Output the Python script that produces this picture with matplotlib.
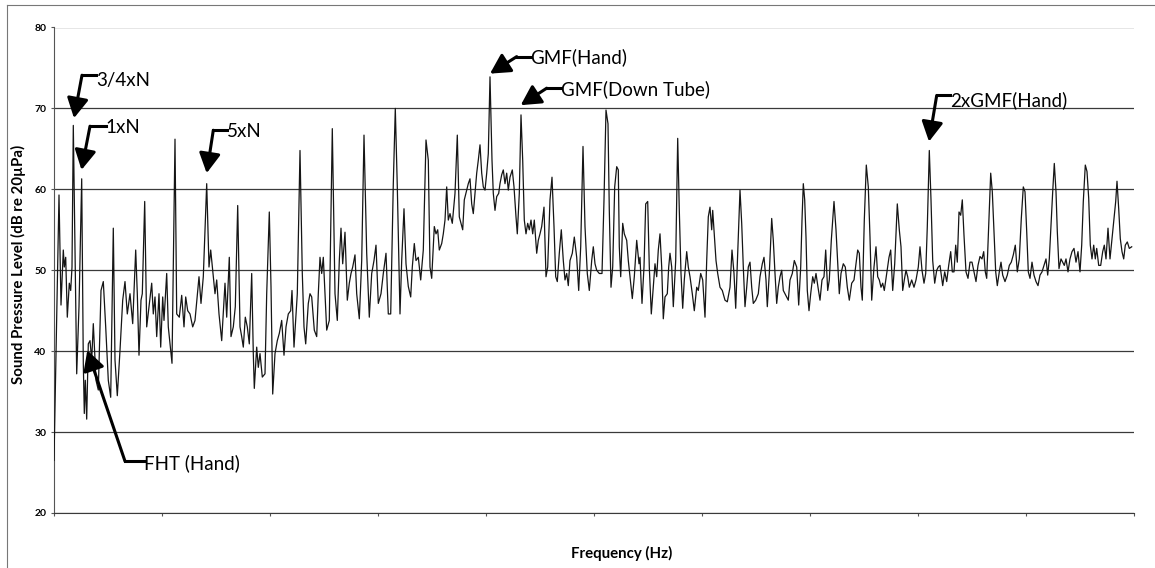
import matplotlib
matplotlib.use("Agg")
import matplotlib.pyplot as plt
from matplotlib.lines import Line2D

plt.rcParams["font.family"] = ["Lato", "DejaVu Sans"]

# Spectrum vertices (peaks and troughs), frequency in Hz, level in dB re 20 uPa
FREQ_HZ = [
    0.0, 5.0, 7.0, 9.3, 10.3, 11.7, 13.3, 15.3, 16.7, 18.0, 19.3, 22.7, 25.0, 27.7, 29.3,
    30.3, 31.3, 32.7, 34.3, 36.0, 37.7, 39.3, 42.0, 44.3, 47.0, 49.3, 51.7, 54.3, 56.7, 59.3,
    61.0, 63.3, 66.0, 68.7, 71.0, 73.3, 76.0, 78.7, 81.7, 83.3, 85.0, 87.0, 88.3, 90.7, 92.7,
    95.0, 97.7, 99.3, 101.0, 102.7, 105.0, 106.7, 108.7, 110.0, 112.7, 114.3, 116.7, 118.0, 121.0,
    122.7, 125.3, 127.7, 130.0, 131.7, 133.7, 136.0, 138.7, 141.0, 145.0, 147.0, 149.3, 152.7,
    155.0, 156.7, 158.7, 161.0, 162.7, 165.0, 167.7, 171.0, 172.7, 175.3, 177.0, 179.3, 181.3,
    183.7, 186.0, 187.7, 189.3, 191.3, 193.3, 195.3, 197.7, 199.3, 200.3, 202.7, 204.3, 206.0,
    208.3, 211.0, 212.7, 215.3, 217.0, 218.7, 221.0, 223.3, 225.3, 227.7, 230.0, 232.0, 234.3,
    236.7, 238.0, 240.0, 243.3, 246.0, 248.3, 250.0, 251.7, 254.3, 256.0, 257.7, 260.3, 262.7,
    264.3, 266.0, 267.7, 269.3, 271.0, 272.7, 275.3, 278.3, 281.0, 283.3, 285.3, 287.0, 288.7,
    291.0, 293.3, 295.3, 297.0, 298.7, 301.0, 302.7, 305.3, 307.7, 310.0, 312.7, 315.3, 317.7,
    320.0, 322.0, 324.3, 327.0, 329.3, 332.0, 334.3, 336.7, 339.3, 341.3, 343.3, 346.0, 347.7,
    350.0, 352.0, 354.3, 356.7, 358.3, 360.3, 362.0, 364.3, 366.7, 369.3, 372.0, 374.3, 376.0,
    377.7, 380.3, 382.0, 383.7, 385.3, 387.7, 389.3, 391.0, 392.7, 394.3, 396.0, 398.3, 401.0,
    403.3, 405.3, 407.0, 408.7, 410.3, 412.7, 414.3, 416.0, 417.7, 419.3, 421.0, 422.7, 424.3,
    426.0, 427.7, 429.3, 431.0, 432.7, 434.3, 436.0, 438.0, 439.3, 441.0, 442.7, 444.7, 446.0,
    447.7, 449.3, 451.0, 452.7, 454.3, 456.0, 458.3, 460.0, 462.0, 463.3, 465.3, 467.0, 468.7,
    470.3, 472.0, 473.7, 475.3, 477.0, 478.7, 480.3, 482.7, 484.3, 486.0, 487.7, 490.0, 492.0,
    493.7, 496.0, 498.0, 500.0, 501.7, 503.3, 505.3, 507.3, 509.3, 511.0, 512.7, 514.3, 516.0,
    518.3, 520.3, 522.7, 524.7, 526.7, 529.0, 531.0, 533.3, 535.3, 537.7, 539.3, 541.0, 542.7,
    545.3, 548.0, 550.0, 552.0, 554.0, 555.3, 557.0, 558.7, 560.7, 562.7, 564.3, 565.3, 566.7,
    568.7, 570.3, 572.7, 574.3, 576.0, 578.3, 580.3, 582.7, 585.0, 586.0, 588.0, 590.0, 591.7,
    593.7, 595.3, 597.3, 599.3, 601.0, 602.7, 604.3, 606.0, 607.7, 609.3, 611.0, 613.3, 614.7,
    616.0, 617.7, 619.3, 621.7, 623.7, 625.3, 627.0, 628.7, 630.3, 632.7, 634.3, 636.0, 638.3,
    640.3, 642.7, 644.3, 646.7, 648.7, 651.0, 652.7, 654.3, 656.0, 657.7, 658.7, 660.0, 662.0,
    663.7, 666.0, 668.3, 671.0, 673.3, 676.0, 678.0, 680.0, 681.7, 683.7, 686.0, 687.7, 689.3,
    691.0, 692.7, 694.3, 696.0, 697.7, 699.3, 701.7, 704.3, 706.0, 708.3, 710.0, 712.0, 713.3,
    715.3, 717.7, 719.3, 721.0, 722.7, 724.3, 726.0, 727.7, 729.3, 731.0, 732.7, 734.3, 736.0,
    738.3, 740.3, 742.7, 744.7, 746.7, 748.0, 749.3, 750.7, 752.0, 753.3, 755.0, 756.7, 758.7,
    760.3, 762.0, 764.0, 766.0, 768.0, 770.0, 771.7, 773.7, 775.3, 777.3, 780.0, 782.0, 783.7,
    785.3, 787.0, 789.3, 791.3, 793.3, 795.3, 797.7, 800.0, 802.0, 803.7, 805.3, 807.0, 808.3,
    810.3, 812.3, 814.3, 816.0, 817.7, 820.0, 822.0, 823.7, 825.3, 827.0, 828.7, 830.3, 832.7,
    835.0, 836.7, 838.7, 840.7, 843.3, 845.3, 847.0, 848.7, 850.3, 852.0, 853.7, 855.3, 857.7,
    860.0, 862.0, 864.3, 866.0, 868.0, 870.0, 871.7, 873.3, 875.3, 877.0, 878.7, 880.7, 882.7,
    884.3, 886.0, 888.7, 890.7, 892.7, 894.7, 896.7, 898.3, 900.0, 901.7, 903.3, 905.0, 906.7,
    908.3, 910.0, 912.0, 914.0, 916.0, 918.0, 920.0, 922.0, 924.0, 926.0, 928.0, 929.7, 931.3,
    932.7, 934.7, 936.7, 938.3, 940.0, 941.7, 943.3, 945.3, 947.0, 948.7, 951.0, 953.3, 955.3,
    957.3, 959.3, 961.3, 963.3, 965.3, 967.3, 969.3, 971.0, 972.7, 974.3, 976.0, 978.0, 980.0,
    982.0, 984.0, 986.0, 988.0, 990.0, 992.0, 993.7, 995.3, 997.0, 998.7, 1000.3, 1002.0, 1003.3,
    1005.0, 1007.0, 1008.7, 1010.3, 1012.0, 1014.0, 1016.0, 1018.0, 1020.0, 1022.0, 1024.0, 1026.0,
    1027.7, 1029.3, 1031.3, 1033.0, 1034.7, 1036.3, 1038.0, 1039.7, 1041.3, 1042.7, 1044.7, 1046.7,
    1048.7, 1050.3, 1052.0, 1054.0, 1056.0, 1058.0, 1060.0, 1061.7, 1063.0, 1064.7, 1066.3, 1068.0,
    1069.7, 1071.3, 1073.3, 1075.3, 1077.7,
]
SPL_DB = [
    26.5, 59.3, 45.7, 52.5, 50.4, 51.6, 44.2, 48.4, 47.5, 50.4, 67.9, 37.2, 45.5, 61.3, 38.5,
    32.3, 36.4, 31.6, 40.9, 41.3, 38.9, 43.4, 36.4, 35.2, 47.5, 48.6, 43.0, 36.4, 34.3, 55.2,
    38.9, 34.5, 40.1, 46.3, 48.6, 44.6, 47.1, 43.4, 52.5, 47.1, 39.5, 46.3, 47.1, 58.5, 43.0,
    45.5, 48.4, 44.6, 46.7, 41.8, 47.1, 40.5, 46.7, 43.8, 49.6, 43.0, 40.1, 38.5, 66.2,
    44.6, 44.2, 46.9, 43.0, 46.7, 45.0, 44.6, 43.0, 43.8, 49.2, 45.9, 49.2, 60.7,
    50.4, 52.5, 50.0, 47.1, 48.8, 44.6, 41.3, 48.4, 44.2, 51.6, 41.8, 43.0, 45.5,
    58.0, 43.0, 41.8, 40.5, 44.2, 43.0, 40.9, 49.6, 39.7, 35.4, 40.5, 38.0, 39.7,
    36.8, 37.2, 47.1, 57.2, 48.0, 34.7, 39.7, 41.3, 42.2, 43.8, 39.5, 43.0, 44.6,
    45.0, 47.5, 40.5, 47.1, 64.8, 49.6, 43.0, 40.9, 45.9, 47.1, 46.7, 42.6, 41.8,
    47.1, 51.6, 49.6, 51.6, 47.1, 42.6, 43.8, 67.5, 47.1, 43.8, 51.2, 55.2, 50.8,
    54.7, 46.3, 48.4, 49.6, 50.4, 51.9, 47.1, 44.0, 51.2, 66.7, 52.1, 44.2, 49.6,
    51.2, 53.1, 45.9, 47.1, 49.6, 52.1, 44.6, 44.6, 60.7, 70.0, 60.3, 44.6, 51.2,
    57.6, 50.8, 48.0, 46.7, 50.4, 53.3, 51.2, 51.6, 48.8, 52.5, 66.1, 63.6, 50.4,
    49.0, 55.4, 54.5, 55.0, 52.5, 53.3, 54.5, 56.2, 60.3, 56.2, 57.0, 55.8, 59.5,
    66.7, 56.6, 55.8, 55.0, 58.7, 59.9, 60.7, 61.3, 58.2, 57.0, 59.5, 62.0, 63.6,
    65.5, 62.0, 60.3, 59.9, 62.0, 64.4, 73.9, 63.6, 59.5, 57.4, 59.1, 59.5, 60.7,
    61.8, 62.4, 60.7, 62.0, 59.9, 61.5, 62.4, 60.3, 56.6, 54.5, 59.5, 69.2, 63.6,
    56.2, 54.5, 55.8, 55.0, 56.2, 54.5, 56.2, 52.1, 53.7, 54.5, 55.4, 57.8, 49.2,
    50.4, 58.7, 61.5, 55.4, 49.2, 48.6, 52.1, 55.0, 51.2, 48.8, 49.6, 48.1, 51.2,
    52.1, 54.1, 51.6, 47.5, 52.9, 65.3, 55.4, 49.6, 47.5, 51.2, 52.9, 50.8, 50.0,
    49.6, 49.6, 58.7, 69.8, 68.1, 57.4, 47.9, 50.4, 60.3, 62.8, 62.4, 52.9, 49.2,
    55.8, 54.5, 53.7, 51.2, 49.2, 46.5, 49.2, 53.7, 50.8, 51.6, 45.9, 50.4, 58.2,
    58.5, 50.4, 44.6, 47.9, 50.8, 49.2, 52.5, 54.5, 50.4, 44.0, 46.7, 47.1, 50.4,
    52.1, 50.4, 45.5, 51.2, 66.3, 57.4, 49.6, 45.3, 48.8, 52.3, 50.4, 49.2, 47.1,
    45.0, 47.9, 47.5, 49.6, 48.8, 44.2, 51.2, 56.6, 57.8, 55.0, 57.4, 55.0, 51.2,
    49.6, 47.9, 47.5, 46.3, 46.1, 47.9, 52.5, 49.6, 45.3, 52.1, 59.9, 55.8, 50.4,
    45.5, 47.9, 50.4, 51.0, 47.9, 45.9, 46.3, 47.1, 49.2, 50.8, 51.6, 48.8, 45.5,
    49.6, 56.4, 53.7, 49.6, 45.9, 47.9, 49.2, 50.0, 47.5, 47.1, 46.7, 46.3, 48.8,
    49.6, 51.2, 50.4, 45.7, 50.4, 56.2, 60.7, 58.7, 54.1, 47.5, 45.0, 47.1, 49.2,
    48.4, 49.6, 47.9, 46.3, 48.8, 49.2, 52.5, 47.5, 48.8, 53.7, 58.5, 55.0, 50.8,
    47.1, 49.6, 50.8, 50.4, 47.9, 46.3, 48.4, 48.8, 50.8, 52.5, 52.1, 47.9, 46.3,
    56.2, 63.0, 60.3, 54.1, 46.3, 50.4, 52.9, 49.2, 48.8, 47.9, 48.4, 47.5, 49.6,
    51.6, 52.5, 47.5, 50.8, 58.2, 55.0, 52.9, 47.5, 48.8, 50.0, 49.2, 47.9, 48.8,
    47.9, 48.8, 50.4, 52.9, 50.0, 48.4, 49.6, 55.4, 64.8, 58.7, 51.2, 48.4, 50.0,
    50.4, 50.6, 48.1, 49.8, 48.6, 50.6, 52.3, 49.8, 49.8, 53.1, 51.0, 57.2, 56.8,
    58.7, 54.3, 49.8, 49.0, 51.0, 51.0, 49.8, 48.6, 50.6, 51.7, 51.4, 52.3, 49.8,
    49.0, 55.6, 62.0, 59.7, 54.8, 49.8, 48.1, 49.8, 51.0, 49.4, 48.6, 49.4, 50.6,
    51.0, 51.9, 53.1, 49.8, 51.4, 56.4, 60.3, 59.7, 54.8, 49.8, 49.0, 51.0, 49.4,
    48.6, 48.1, 49.4, 49.8, 50.6, 51.4, 49.4, 51.4, 55.6, 59.7, 63.2, 59.7, 54.8,
    50.2, 51.4, 51.0, 50.6, 51.4, 49.8, 51.4, 52.3, 52.7, 51.0, 52.3, 49.8,
    53.1, 58.5, 63.0, 62.2, 58.9, 53.1, 51.4, 53.1, 51.4, 52.7, 50.6, 50.6,
    52.3, 53.1, 51.4, 55.2, 51.4, 53.9, 56.4, 58.5, 61.0, 57.6, 53.9, 52.3,
    51.4, 53.1, 53.5, 52.7, 52.9,
]

Y_TICKS = [20, 30, 40, 50, 60, 70, 80]
X_MAX = 1080
X_TICK_STEP = 108

# label, arrow tip (Hz, dB), elbow (Hz, dB), text start (Hz, dB)
CALLOUTS = [
    ("3/4xN", (20.0, 68.8), (28.0, 74.1), (42.0, 73.5)),
    ("1xN", (27.5, 62.4), (36.0, 67.8), (51.5, 67.6)),
    ("5xN", (152.7, 62.0), (159.3, 67.3), (173.0, 67.1)),
    ("FHT (Hand)", (33.3, 40.1), (71.0, 26.4), (89.5, 26.1)),
    ("GMF(Hand)", (436.0, 74.3), (462.7, 76.4), (476.5, 76.3)),
    ("GMF(Down Tube)", (466.7, 70.4), (492.7, 72.5), (507.0, 72.4)),
    ("2xGMF(Hand)", (875.0, 65.9), (882.7, 71.6), (896.0, 71.0)),
]

W, H = 1155, 568
fig = plt.figure(figsize=(W / 100, H / 100), dpi=100)
ax = fig.add_axes([54 / W, 55 / H, 1080 / W, 485.5 / H])

ax.plot(FREQ_HZ, SPL_DB, color="#151515", lw=0.9, zorder=3)

ax.set_xlim(0, X_MAX)
ax.set_ylim(Y_TICKS[0], Y_TICKS[-1])
ax.set_yticks(Y_TICKS)
ax.set_xticks(range(0, X_MAX + 1, X_TICK_STEP))
ax.set_xticklabels([])
ax.yaxis.grid(True, color="#3a3a3a", lw=0.9)
ax.set_axisbelow(True)
for side in ("top", "right"):
    ax.spines[side].set_visible(False)
ax.spines["left"].set_color("#555555")
ax.spines["bottom"].set_color("#3a3a3a")
ax.tick_params(axis="both", length=2.5, width=0.8, color="#555555", direction="out")
ax.tick_params(axis="y", labelsize=7.5, pad=3)
for lbl in ax.get_yticklabels():
    lbl.set_fontweight("bold")

# callouts: short horizontal lead from the text, then a slanted arrow to the peak
for label, tip, elbow, start in CALLOUTS:
    ax.plot([elbow[0], start[0]], [elbow[1], elbow[1]], color="black", lw=2.2,
            solid_capstyle="projecting", zorder=5, clip_on=False)
    ax.annotate("", xy=tip, xytext=elbow,
                arrowprops=dict(arrowstyle="-|>,head_length=1.2,head_width=0.65",
                                color="black", lw=2.2, shrinkA=0, shrinkB=0),
                zorder=5, annotation_clip=False)
    ax.text(start[0], start[1], label, fontsize=13.5, ha="left", va="center", zorder=6)

fig.text(18 / W, 1 - 264 / H, "Sound Pressure Level (dB re 20µPa)", rotation=90,
         ha="center", va="center", fontsize=10.8, fontweight="bold")
fig.text(622 / W, 1 - 553 / H, "Frequency (Hz)", ha="center", va="center",
         fontsize=10.8, fontweight="bold")

# chart-area border
fig.add_artist(Line2D([7 / W, 7 / W], [0, 1 - 5 / H], transform=fig.transFigure,
                      color="#777777", lw=0.8))
fig.add_artist(Line2D([7 / W, 1], [1 - 5 / H, 1 - 5 / H], transform=fig.transFigure,
                      color="#777777", lw=0.8))

fig.savefig("out.png", dpi=100)
